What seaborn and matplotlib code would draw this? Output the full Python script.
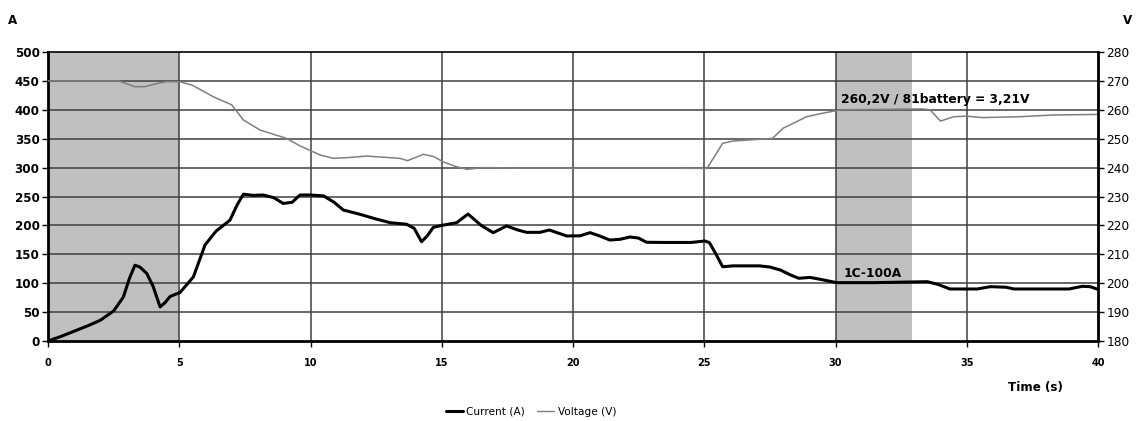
import numpy as np
import pandas as pd
import matplotlib
matplotlib.use("Agg")
import matplotlib.pyplot as plt
import seaborn as sns
from matplotlib.lines import Line2D

# ---- data ----
current_t = [0, 0.5, 1.0, 1.5, 2.0, 2.5, 2.87, 3.1, 3.31, 3.5, 3.76, 4.0, 4.27, 4.45, 4.65, 5.03,
             5.54, 5.98, 6.4, 6.93, 7.2, 7.44, 7.8, 8.2, 8.6, 8.96, 9.3, 9.6, 10.0, 10.5,
             10.9, 11.25, 11.9, 12.5, 13.03, 13.66, 13.95, 14.23, 14.45, 14.68, 15.0, 15.57,
             16.0, 16.5, 16.96, 17.47, 17.9, 18.23, 18.74, 19.1, 19.76, 20.27, 20.65, 21.0,
             21.4, 21.8, 22.17, 22.5, 22.8, 23.5, 24.5, 25.03, 25.2, 25.45, 25.7, 26.1,
             27.1, 27.5, 27.9, 28.3, 28.6, 29.03, 29.5, 30.04, 31.5, 33.5, 33.9, 34.36,
             35.4, 35.9, 36.5, 36.8, 38.9, 39.4, 39.7, 40.0]
current_a = [0, 8, 17, 26, 36, 52, 76, 108, 131, 128, 117, 95, 59, 66, 77, 84,
             111, 166, 190, 209, 235, 254, 252, 252.6, 248, 238, 240, 252.6, 252.6, 251,
             240, 226.6, 219, 211, 204.7, 202, 195, 171.8, 182, 196.7, 200, 204.7,
             219.7, 200, 187.4, 199, 192, 188, 188, 192, 181.7, 182, 187.4, 182,
             174.7, 176, 180, 178, 170.8, 170.5, 170.5, 173, 170, 150, 128.5, 130,
             130, 128, 122.8, 114, 108.5, 110, 106, 101, 101, 102.6, 98, 90,
             90, 94, 93, 90, 90, 94.6, 94, 89.4]

voltage_t = [0, 2.7, 3.0, 3.3, 3.7, 4.1, 4.5, 5.03, 5.5, 6.3, 7.0, 7.44, 8.08, 9.09, 9.6,
             10.36, 10.87, 11.5, 12.14, 13.4, 13.7, 14.0, 14.3, 14.7, 15.05, 15.5, 15.95,
             16.6, 18.0, 20.0, 22.0, 24.0, 25.1, 25.4, 25.7, 26.1, 27.6, 28.0, 28.9,
             29.5, 30.2, 33.3, 33.6, 34.0, 34.5, 35.0, 35.6, 37.0, 38.3, 39.95]
voltage_v = [270, 270, 269, 268, 268, 269, 269.7, 269.7, 268.5, 264.5, 261.7, 256.5, 253, 250.1, 247.5,
             244.4, 243.2, 243.5, 244, 243.2, 242.4, 243.5, 244.6, 243.8, 242, 240.5, 239.4,
             240, 239.8, 239.8, 239.8, 239.8, 239.7, 244, 248.4, 249.2, 250.1, 253.6, 257.6,
             258.8, 260, 260.3, 260, 256.1, 257.6, 257.8, 257.3, 257.6, 258.2, 258.4]

x_ticks = [0, 5, 10, 15, 20, 25, 30, 35, 40]
left_ticks = [0, 50, 100, 150, 200, 250, 300, 350, 400, 450, 500]
right_ticks = [180, 190, 200, 210, 220, 230, 240, 250, 260, 270, 280]
shade_spans = [(0, 5), (30, 32.9)]

df_c = pd.DataFrame({"t": current_t, "A": current_a})
df_v = pd.DataFrame({"t": voltage_t, "V": voltage_v})

sns.set_style("white")
plt.rcParams['font.family'] = ['DejaVu Sans']
plt.rcParams['text.color'] = 'black'
plt.rcParams['axes.labelcolor'] = 'black'
plt.rcParams['xtick.color'] = 'black'
plt.rcParams['ytick.color'] = 'black'

fig = plt.figure(figsize=(11.4, 4.21), dpi=100)
ax = fig.add_axes([48/1140, 1-341/421, (1098-48)/1140, (341-52)/421])
ax2 = ax.twinx()

for a, b in shade_spans:
    ax.axvspan(a, b, color="#c0c0c0", lw=0, zorder=0)

ax.set_xlim(0, 40)
ax.set_ylim(0, 500)
ax2.set_ylim(180, 280)
ax.set_xticks(x_ticks)
ax.set_yticks(left_ticks)
ax2.set_yticks(right_ticks)

grid_c = "#404040"
for y in left_ticks[1:-1]:
    ax.axhline(y, color=grid_c, lw=1.1, zorder=1)
for x in x_ticks[1:-1]:
    ax.axvline(x, color=grid_c, lw=1.1, zorder=1)

sns.lineplot(data=df_c, x="t", y="A", ax=ax, color="black", lw=2.2, zorder=4)
sns.lineplot(data=df_v, x="t", y="V", ax=ax2, color="#7f7f7f", lw=1.1, zorder=3)

ax.set_xlabel("")
ax.set_ylabel("")
ax2.set_ylabel("")

ax.tick_params(axis="y", direction="out", length=4, width=1, labelsize=8.6, pad=2, left=True,
               color="black", labelcolor="black")
ax.tick_params(axis="x", direction="out", length=4, width=1, labelsize=7.0, pad=8, bottom=True,
               color="black", labelcolor="black")
for lab in ax.get_yticklabels() + ax.get_xticklabels():
    lab.set_fontweight("bold")
ax2.tick_params(axis="y", direction="out", length=4, width=1, labelsize=8.7, pad=2, right=True,
                color="black", labelcolor="black")

for s in ["left", "bottom", "right"]:
    ax.spines[s].set_linewidth(2)
    ax.spines[s].set_color("black")
ax.spines["top"].set_linewidth(1.2)
ax.spines["top"].set_color("black")
for s in ax2.spines.values():
    s.set_visible(False)

ax2.set_zorder(ax.get_zorder() + 1)
ax2.patch.set_visible(False)

fig.text(13/1140, 1-20/421, "A", fontsize=8.6, fontweight="bold", ha="center", va="center", color="black")
fig.text(1128/1140, 1-20/421, "V", fontsize=8.6, fontweight="bold", ha="center", va="center", color="black")
fig.text(1035/1140, 1-387/421, "Time (s)", fontsize=8.6, fontweight="bold", ha="center", va="center", color="black")

ax2.text(30.2, 418, "260,2V / 81battery = 3,21V", transform=ax.transData, fontsize=8.8,
         fontweight="bold", ha="left", va="center", zorder=10, color="black")
ax2.text(30.3, 116, "1C-100A", transform=ax.transData, fontsize=8.8,
         fontweight="bold", ha="left", va="center", zorder=10, color="black")

handles = [Line2D([], [], color="black", lw=2.2), Line2D([], [], color="#7f7f7f", lw=1.0)]
leg = fig.legend(handles, ["Current (A)", "Voltage (V)"], loc="center", bbox_to_anchor=(531/1140, 1-412/421),
                 ncol=2, frameon=False, fontsize=7.6, handlelength=1.6, handletextpad=0.3, columnspacing=1.2)
for t in leg.get_texts():
    t.set_color("black")

fig.savefig("out.png", dpi=100)
